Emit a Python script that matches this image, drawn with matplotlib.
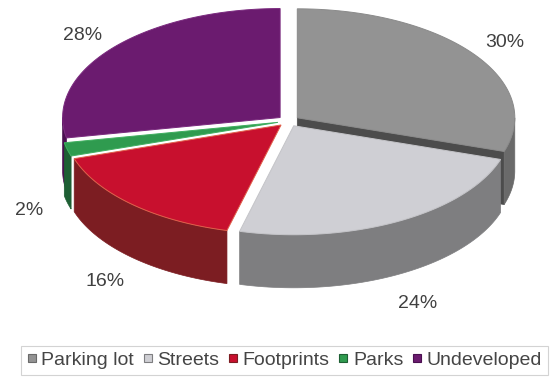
import matplotlib
matplotlib.use('Agg')
import matplotlib.pyplot as plt
import numpy as np
from matplotlib.patches import Polygon
from matplotlib.lines import Line2D

plt.rcParams['font.family'] = ['Liberation Sans', 'DejaVu Sans']

# land use shares (percent)
labels = ['Parking lot', 'Streets', 'Footprints', 'Parks', 'Undeveloped']
shares = [30, 24, 16, 2, 28]

top_colors = ['#939393', '#cfcfd4', '#c8102e', '#2f9b4f', '#6b1b6f']
wall_colors = ['#6a6a6a', '#7e7e80', '#7c1d22', '#1e5f34', '#4a1050']
cut_colors = ['#4c4c4c', '#6a6a6a', '#8e1a22', '#1a4f2c', '#3e0d44']
rim_colors = ['#8a8a8a', '#c4c4c8', '#e0604a', '#3fae5f', '#7a2a7e']
# which slices show their radial cut face
show_cut = [True, False, False, False, False]

# 3d look: squashed ellipse with some thickness
RY = 0.501
DEPTH = 0.244
EXPLODE = 0.05
LABEL_R = 1.23


def ring(a1, a2, ox, oy, n=80):
    t = np.radians(np.linspace(a1, a2, n))
    return np.column_stack([ox + np.cos(t), oy + RY * np.sin(t)])


fig = plt.figure(figsize=(5.55, 3.82), dpi=100)
ax = fig.add_axes([0, 0, 1, 1])
ax.set_xlim(-1.3264, 1.2253)
ax.set_ylim(-1.2, 0.5563)
ax.axis('off')

total = float(sum(shares))
bounds = []
start = 90.0
for s in shares:
    end = start - 360.0 * s / total
    bounds.append((start, end))
    start = end

# back slices first
order = sorted(range(len(shares)),
               key=lambda i: -np.sin(np.radians(sum(bounds[i]) / 2)))

z = 1
for i in order:
    th1, th2 = bounds[i]
    mid = np.radians((th1 + th2) / 2)
    ox = EXPLODE * np.cos(mid)
    oy = EXPLODE * RY * np.sin(mid)

    # radial cut faces pointing towards the viewer
    for a, normal in ((th1, th1 + 90), (th2, th2 - 90)):
        if show_cut[i] and np.sin(np.radians(normal)) < -0.5:
            ex = ox + np.cos(np.radians(a))
            ey = oy + RY * np.sin(np.radians(a))
            face = [(ox, oy), (ex, ey), (ex, ey - DEPTH), (ox, oy - DEPTH)]
            ax.add_patch(Polygon(face, closed=True, facecolor=cut_colors[i],
                                 edgecolor=cut_colors[i], lw=0.5, zorder=z))
            z += 1

    # front part of the outer wall
    lo = max(th2, -180.0)
    hi = min(th1, 0.0)
    if hi > lo:
        upper = ring(hi, lo, ox, oy)
        lower = ring(lo, hi, ox, oy - DEPTH)
        ax.add_patch(Polygon(np.vstack([upper, lower]), closed=True,
                             facecolor=wall_colors[i], edgecolor=wall_colors[i],
                             lw=0.5, zorder=z))
        z += 1

    top = np.vstack([[(ox, oy)], ring(th1, th2, ox, oy)])
    ax.add_patch(Polygon(top, closed=True, facecolor=top_colors[i],
                         edgecolor=rim_colors[i], lw=0.7, zorder=z))
    z += 1

# percentage labels
for i, s in enumerate(shares):
    mid = np.radians(sum(bounds[i]) / 2)
    lx = LABEL_R * np.cos(mid)
    if np.sin(mid) < 0:
        ly = LABEL_R * 0.55 * np.sin(mid) - DEPTH
    else:
        ly = LABEL_R * 0.5 * np.sin(mid)
    ax.text(lx, ly, f'{s}%', ha='center', va='center', fontsize=14,
            color='#404040', zorder=50)

handles = [Line2D([], [], marker='s', linestyle='none', markersize=5.5,
                  markerfacecolor=top_colors[i], markeredgecolor=wall_colors[i],
                  markeredgewidth=0.8)
           for i in range(len(labels))]
leg = fig.legend(handles, labels, loc='center', bbox_to_anchor=(0.5126, 0.0563),
                 ncol=5, frameon=True, fancybox=False, edgecolor='#c8c8c8',
                 fontsize=14, handlelength=0.5, handletextpad=0.25,
                 columnspacing=0.45, borderpad=0.3, labelcolor='#454545')
leg.get_frame().set_linewidth(0.8)

fig.savefig('out.png', dpi=100, facecolor='white')
